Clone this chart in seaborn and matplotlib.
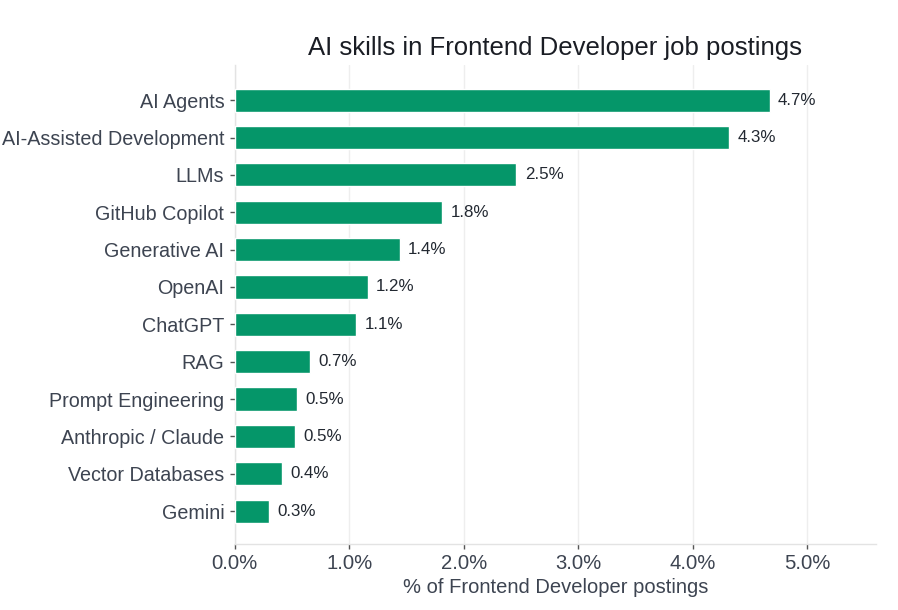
import matplotlib
matplotlib.use("Agg")
import matplotlib.pyplot as plt
import pandas as pd
import seaborn as sns

# data (% of postings)
skills = [
    "AI Agents",
    "AI-Assisted Development",
    "LLMs",
    "GitHub Copilot",
    "Generative AI",
    "OpenAI",
    "ChatGPT",
    "RAG",
    "Prompt Engineering",
    "Anthropic / Claude",
    "Vector Databases",
    "Gemini",
]
share_pct = [4.67, 4.32, 2.46, 1.81, 1.44, 1.16, 1.06, 0.66, 0.54, 0.53, 0.41, 0.30]
x_ticks = [0, 1, 2, 3, 4, 5]

df = pd.DataFrame({"skill": skills, "pct": share_pct})

sns.set_theme(style="white")
plt.rcParams["font.family"] = ["Liberation Sans", "DejaVu Sans"]

fig = plt.figure(figsize=(8.98, 6.10), dpi=100)
ax = fig.add_axes([0.2614, 0.1082, 0.7141, 0.7852])

sns.barplot(data=df, x="pct", y="skill", color="#059669", width=0.62,
            saturation=1, ax=ax, zorder=3)

# value labels at bar ends
for i, v in enumerate(df["pct"]):
    ax.annotate(f"{v:.1f}%", xy=(v, i), xytext=(6, 0),
                textcoords="offset points", va="center", ha="left",
                fontsize=12.2, color="#222831")

ax.set_xlim(0, 5.6)
ax.set_ylim(len(skills) - 1 + 0.88, -0.94)
ax.set_xticks(x_ticks)
ax.set_xticklabels([f"{t:.1f}%" for t in x_ticks])

ax.grid(axis="x", color="#eeeeee", linewidth=1, zorder=0)
ax.grid(axis="y", visible=False)
for side in ["top", "right"]:
    ax.spines[side].set_visible(False)
for side in ["left", "bottom"]:
    ax.spines[side].set_color("#e3e3e3")
    ax.spines[side].set_linewidth(1)

# keep the y labels just inside the figure edge
ax.tick_params(axis="y", labelsize=14.2)
ax.tick_params(axis="x", labelsize=14.6)
ax.tick_params(axis="both", which="major", labelcolor="#3d4451",
               color="#555555", length=3.5, width=1, pad=4, bottom=True, left=True)

ax.set_title("AI skills in Frontend Developer job postings", fontsize=18.5,
             color="#1a1d24", pad=7)
ax.set_xlabel("% of Frontend Developer postings", fontsize=14.5,
              color="#3d4451", labelpad=3)
ax.set_ylabel("")

plt.savefig("out.png", dpi=100)
plt.close()
